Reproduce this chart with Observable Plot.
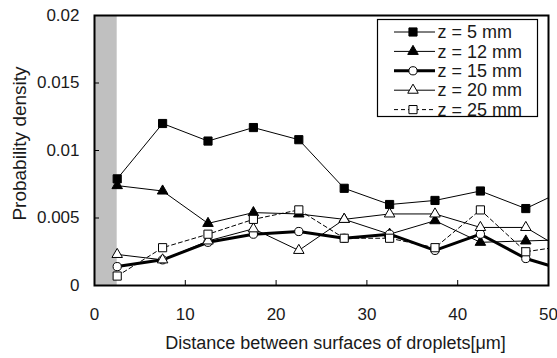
<!DOCTYPE html>
<html>
<head>
<meta charset="utf-8">
<script src="https://cdn.jsdelivr.net/npm/d3@7"></script>
<script src="https://cdn.jsdelivr.net/npm/@observablehq/plot@0.6"></script>
<style>
  html, body { margin: 0; padding: 0; background: #fff; }
  #wrap { position: relative; width: 557px; height: 358px; }
  #wrap svg { display: block; }
  #legend { position: absolute; left: 377px; top: 19px; overflow: visible; }
</style>
</head>
<body>
<div id="wrap"></div>
<script>
// ---- data ----
const distances = [2.5, 7.5, 12.5, 17.5, 22.5, 27.5, 32.5, 37.5, 42.5, 47.5, 52.5];
const z5  = [0.0079, 0.0120, 0.0107, 0.0117, 0.0108, 0.0072, 0.0060, 0.0063, 0.0070, 0.0057, 0.0073];
const z12 = [0.0074, 0.0070, 0.0046, 0.0054, 0.0053, 0.0049, 0.0038, 0.0048, 0.0032, 0.0033, 0.0034];
const z15 = [0.0014, 0.0019, 0.0032, 0.0038, 0.0040, 0.0035, 0.0038, 0.0026, 0.0038, 0.0020, 0.0010];
const z20 = [0.0023, 0.0019, 0.0033, 0.0042, 0.0026, 0.0049, 0.0053, 0.0053, 0.0043, 0.0043, 0.0023];
const z25 = [0.0007, 0.0028, 0.0038, 0.0049, 0.0056, 0.0035, 0.0035, 0.0028, 0.0056, 0.0025, 0.0030];
const seriesNames = ["z = 5 mm", "z = 12 mm", "z = 15 mm", "z = 20 mm", "z = 25 mm"];
const xTicks = [0, 10, 20, 30, 40, 50];
const yTicks = [0, 0.005, 0.01, 0.015, 0.02];
const shadedRange = [0, 2.5];
const xTitle = "Distance between surfaces of droplets[μm]";
const yTitle = "Probability density";

// ---- styles per series ----
const styles = [
  {symbol: "square",   fill: "black", r: 4.6, sw: 1,   dash: null},
  {symbol: "triangle", fill: "black", r: 3.9, sw: 1,   dash: null},
  {symbol: "circle",   fill: "white", r: 4.1, sw: 3,   dash: null},
  {symbol: "triangle", fill: "white", r: 3.9, sw: 1,   dash: null},
  {symbol: "square",   fill: "white", r: 4.6, sw: 1,   dash: "4,3"}
];
const values = [z5, z12, z15, z20, z25];
const rows = values.map((arr, i) => arr.map((v, j) => ({x: distances[j], y: v, s: seriesNames[i]})));

const font = "Liberation Sans, Arial, Helvetica, sans-serif";
const marks = [
  Plot.rect([shadedRange], {x1: d => d[0], x2: d => d[1], y1: yTicks[0], y2: yTicks[yTicks.length - 1], fill: "#c0c0c0"}),
  Plot.tickX(xTicks.slice(1, -1), {x: d => d, insetTop: 265, stroke: "black", strokeWidth: 1}),
  Plot.tickY(yTicks.slice(1, -1), {y: d => d, insetRight: 449, stroke: "black", strokeWidth: 1})
];
rows.forEach((data, i) => {
  const st = styles[i];
  marks.push(Plot.line(data, {x: "x", y: "y", stroke: "black", strokeWidth: st.sw,
    strokeDasharray: st.dash, clip: "frame"}));
});
rows.forEach((data, i) => {
  const st = styles[i];
  marks.push(Plot.dot(data, {x: "x", y: "y", symbol: () => st.symbol, r: st.r,
    fill: st.fill, stroke: "black", strokeWidth: 1, clip: "frame"}));
});
marks.push(Plot.frame({stroke: "black", strokeWidth: 2}));
marks.push(Plot.text([xTitle], {text: d => d, frameAnchor: "bottom", dx: 14, dy: 58,
  lineAnchor: "middle", fontSize: 18, fill: "#1a1a1a", fontFamily: font}));
marks.push(Plot.text([yTitle], {text: d => d, frameAnchor: "left", textAnchor: "middle", dx: -75, dy: -7, rotate: -90,
  lineAnchor: "middle", fontSize: 19, fill: "#1a1a1a", fontFamily: font}));

const chart = Plot.plot({
  width: 557,
  height: 358,
  marginLeft: 94,
  marginRight: 9,
  marginTop: 15,
  marginBottom: 73,
  style: {fontSize: "17px", fontFamily: font, color: "#1a1a1a", background: "white"},
  symbol: {type: "identity"},
  x: {domain: [xTicks[0], xTicks[xTicks.length - 1]], ticks: xTicks, tickSize: 0, tickPadding: 22, label: null},
  y: {domain: [yTicks[0], yTicks[yTicks.length - 1]], ticks: yTicks, tickSize: 0, tickPadding: 15, label: null,
      tickFormat: d => d === 0 ? "0" : String(d)},
  marks
});
document.getElementById("wrap").appendChild(chart);

// ---- legend box (inside plot, top-right) ----
const lw = 161, lh = 98;
const leg = d3.select("#wrap").append("svg").attr("id", "legend")
  .attr("width", lw).attr("height", lh);
leg.append("rect").attr("x", 0.5).attr("y", 0.5).attr("width", lw - 1).attr("height", lh - 1)
  .attr("fill", "white").attr("stroke", "black").attr("stroke-width", 1.2);
const symMap = {square: d3.symbolSquare, triangle: d3.symbolTriangle, circle: d3.symbolCircle};
seriesNames.forEach((name, i) => {
  const st = styles[i];
  const cy = 13 + i * 19.4;
  leg.append("line").attr("x1", 17).attr("x2", 58).attr("y1", cy).attr("y2", cy)
    .attr("stroke", "black").attr("stroke-width", st.sw)
    .attr("stroke-dasharray", st.dash);
  leg.append("path").attr("d", d3.symbol(symMap[st.symbol], Math.PI * st.r * st.r)())
    .attr("transform", `translate(36,${cy})`)
    .attr("fill", st.fill).attr("stroke", "black").attr("stroke-width", 1);
  leg.append("text").attr("x", 60.5).attr("y", cy).attr("dy", "0.34em")
    .attr("font-family", font).attr("font-size", 18).attr("fill", "#1a1a1a").text(name);
});
</script>
</body>
</html>
